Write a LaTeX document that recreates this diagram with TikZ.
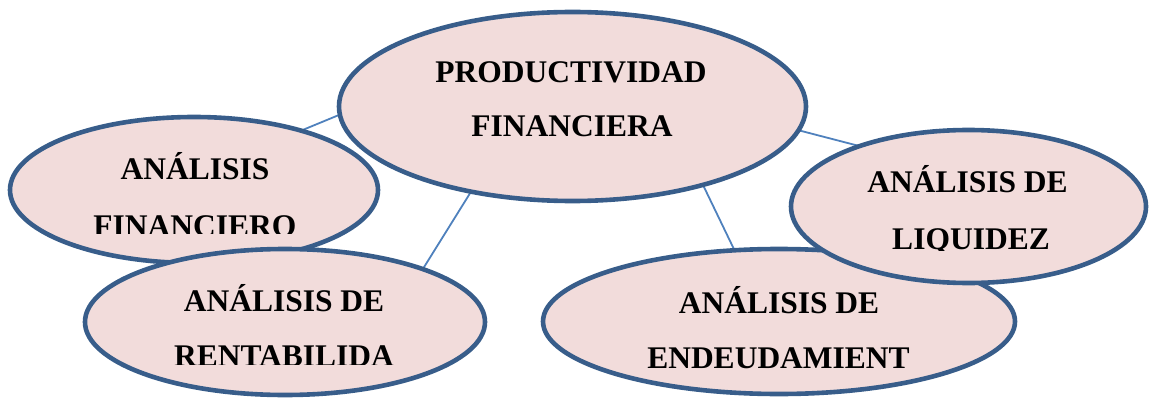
\documentclass[tikz,border=0pt]{standalone}
\usepackage{fontspec}
\setmainfont{Liberation Serif}
\usetikzlibrary{shapes.geometric}
\pgfdeclarelayer{bg}
\pgfsetlayers{bg,main}
\definecolor{fillpink}{HTML}{F2DCDB}
\definecolor{bordblue}{HTML}{385D8A}
\definecolor{linkblue}{HTML}{4F81BD}
\tikzset{
  bubble/.style={ellipse, draw=bordblue, fill=fillpink, line width=4.6pt, inner sep=0pt, outer sep=0pt},
  lbl/.style={font=\fontsize{31.5}{36}\selectfont\bfseries, inner sep=0pt, anchor=base, text=black},
  link/.style={draw=linkblue, line width=1.8pt}
}
\begin{document}
\begin{tikzpicture}[x=1pt,y=-1pt]
\useasboundingbox (0,0) rectangle (1155,398);

% central bubble
\node[bubble, minimum width=467pt, minimum height=189pt] (pf) at (572.5,106.5) {};
\node[lbl] (pf1) at (571,83) {PRODUCTIVIDAD};
\node[lbl] (pf2) at (572,137) {FINANCIERA};

% financiero
\node[bubble, minimum width=368pt, minimum height=146pt] (fin) at (194,190) {};
\node[lbl] (fin1) at (195,179) {ANÁLISIS};
\begin{scope}
  \clip (0,0) rectangle (1155,233);
  \node[lbl] (fin2) at (195,236) {FINANCIERO};
\end{scope}

% rentabilidad
\node[bubble, minimum width=400pt, minimum height=146pt] (ren) at (285,322) {};
\node[lbl] (ren1) at (284,311) {ANÁLISIS DE};
\begin{scope}
  \clip (0,0) rectangle (1155,364);
  \node[lbl] (ren2) at (284,366) {RENTABILIDA};
\end{scope}

% endeudamiento
\node[bubble, minimum width=472pt, minimum height=145pt] (end) at (779,321.5) {};
\node[lbl] (end1) at (779,313) {ANÁLISIS DE};
\node[lbl] (end2) at (778.5,368) {ENDEUDAMIENT};

% liquidez
\node[bubble, minimum width=355pt, minimum height=153pt] (liq) at (968.5,206.5) {};
\node[lbl] (liq1) at (967.5,193) {ANÁLISIS DE};
\begin{scope}
  \clip (0,0) rectangle (1155,250);
  \node[lbl] (liq2) at (971,249) {LIQUIDEZ};
\end{scope}

% connectors behind the bubbles
\begin{pgfonlayer}{bg}
  \draw[link] (pf.182.3) -- (fin.29.2);
  \draw[link] (pf.220.6) -- (ren.21.4);
  \draw[link] (pf.329) -- (end.122.4);
  \draw[link] (pf.354.4) -- (liq.151);
\end{pgfonlayer}
\end{tikzpicture}
\end{document}
